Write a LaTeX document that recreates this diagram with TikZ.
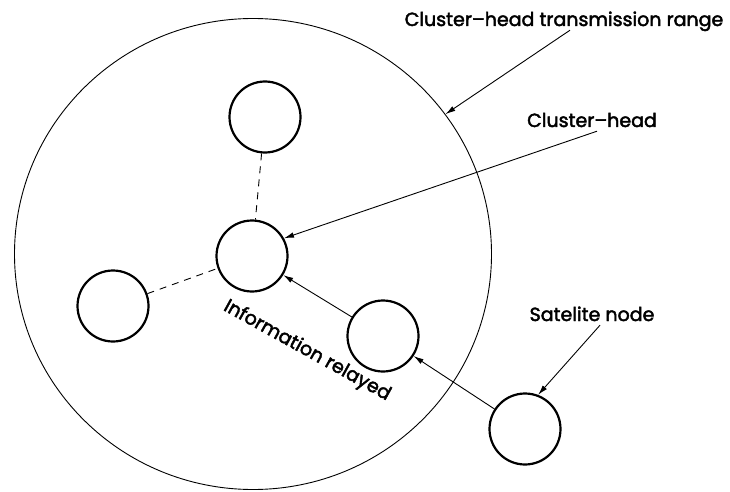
\documentclass[tikz,border=0pt]{standalone}
\usepackage{fontspec}
\setmainfont{Poppins}
\newfontfamily\calloutfont{Poppins}[FakeBold=2.3]
\usepackage{tikz}
\usetikzlibrary{arrows.meta,shapes.geometric}
\tikzset{
  rangeedge/.style  = {ellipse, draw, line width=0.9pt, minimum width=477pt,
                       minimum height=471pt, inner sep=0pt},
  sensor/.style     = {circle, draw, line width=2.2pt, minimum size=71pt,
                       inner sep=0pt},
  calllbl/.style    = {font=\calloutfont\fontsize{19}{22}\selectfont, inner sep=4pt,
                       text depth=0pt, anchor=base},
  callflow/.style   = {-{Latex[length=10pt,width=5.5pt]}, line width=0.9pt},
  linkdash/.style   = {dash pattern=on 7pt off 6pt, line width=0.9pt},
}

\begin{document}
\begin{tikzpicture}[x=1pt,y=-1pt]
  \useasboundingbox (0,0) rectangle (730,492);

  % cluster boundary and its members
  \node[rangeedge] (range) at (253,254) {};
  \node[sensor] (top)   at (265,117) {};
  \node[sensor] (head)  at (252,256) {};
  \node[sensor] (left)  at (113,306) {};
  \node[sensor] (relay) at (383,336) {};
  \node[sensor] (sat)   at (525,429) {};

  % callouts
  \node[calllbl] (trlbl)   at (564,26)  {Cluster\textendash head transmission range};
  \node[calllbl] (chlbl)   at (592,127) {Cluster\textendash head};
  \node[calllbl] (satlbl)  at (592,321) {Satelite node};
  \node[font=\calloutfont\fontsize{19}{22}\selectfont, rotate=-29] (infolbl) at (307,351) {Information relayed};

  \draw[linkdash] (top) -- (head);
  \draw[linkdash] (left) -- (head);
  \draw[callflow] (sat) -- (relay);
  \draw[callflow] (relay) -- (head);

  \draw[callflow] ([xshift=6pt]trlbl.south) -- (range.36);
  \draw[callflow] ([xshift=5pt]chlbl.south) -- (head.29);
  \draw[callflow] ([xshift=8pt]satlbl.south) -- (sat.69);
\end{tikzpicture}
\end{document}
